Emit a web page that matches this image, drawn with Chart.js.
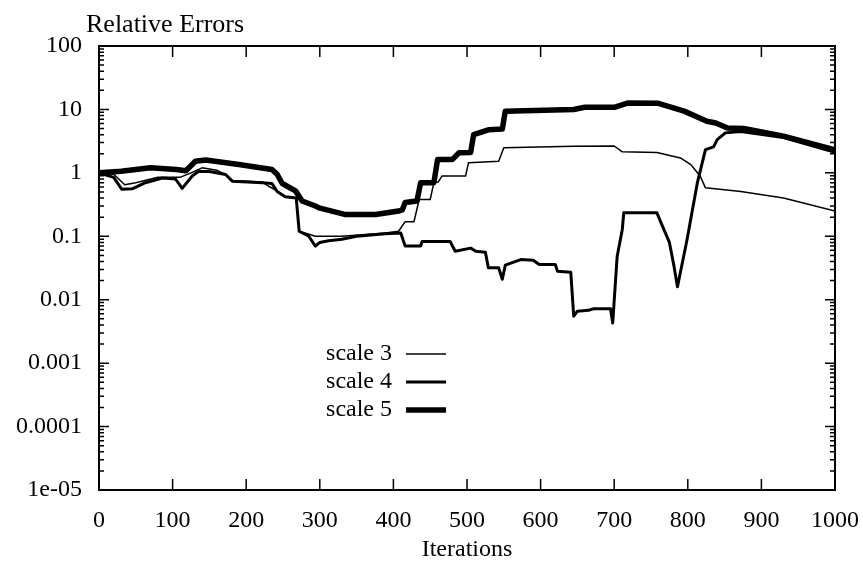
<!DOCTYPE html>
<html>
<head>
<meta charset="utf-8">
<script src="https://cdn.jsdelivr.net/npm/chart.js@4"></script>
<style>
  html, body { margin: 0; padding: 0; background: #fff; }
  #wrap { width: 863px; height: 566px; }
</style>
</head>
<body>
<div id="wrap"><canvas id="errChart" width="863" height="566"></canvas></div>
<script>
// Iteration ticks and log decade labels
const xTicks = [0, 100, 200, 300, 400, 500, 600, 700, 800, 900, 1000];
const yTicks = [1e-5, 1e-4, 1e-3, 1e-2, 0.1, 1, 10, 100];
const yLabels = ['1e-05', '0.0001', '0.001', '0.01', '0.1', '1', '10', '100'];
const seriesNames = ['scale 3', 'scale 4', 'scale 5'];

// scale 3 (thin)
const iters3 = [0, 20, 35, 50, 80, 110, 125, 140, 160, 172, 181, 222, 230, 242, 253, 268, 272, 294, 330, 389, 407, 416, 428, 435, 450, 455, 461, 466, 498, 502, 543, 550, 645, 700, 711, 758, 790, 804, 817, 824, 872, 930, 1000];
const errs3 = [1.0, 0.95, 0.65, 0.7, 0.85, 0.85, 1.0, 1.2, 1.1, 0.94, 0.76, 0.72, 0.62, 0.52, 0.42, 0.4, 0.12, 0.1, 0.1, 0.113, 0.12, 0.17, 0.17, 0.38, 0.38, 0.7, 0.72, 0.89, 0.89, 1.44, 1.52, 2.48, 2.63, 2.65, 2.15, 2.1, 1.72, 1.35, 0.885, 0.58, 0.51, 0.4, 0.25];

// scale 4 (medium)
const iters4 = [0, 20, 31, 45, 63, 86, 104, 113, 127, 135, 150, 172, 181, 222, 235, 242, 253, 268, 272, 285, 294, 300, 312, 330, 350, 389, 410, 416, 437, 439, 477, 484, 505, 512, 525, 529, 543, 548, 552, 573, 590, 598, 620, 623, 641, 645, 650, 665, 672, 695, 698, 704, 711, 713, 758, 765, 775, 781, 786, 799, 813, 824, 835, 840, 851, 872, 930, 1000];
const errs4 = [1.0, 0.85, 0.55, 0.56, 0.7, 0.83, 0.8, 0.57, 0.9, 1.05, 1.05, 0.94, 0.74, 0.7, 0.68, 0.51, 0.42, 0.4, 0.12, 0.1, 0.07, 0.08, 0.085, 0.09, 0.1, 0.11, 0.113, 0.07, 0.07, 0.083, 0.083, 0.058, 0.065, 0.058, 0.056, 0.032, 0.032, 0.021, 0.035, 0.043, 0.042, 0.036, 0.036, 0.028, 0.027, 0.0055, 0.0066, 0.0068, 0.0072, 0.0072, 0.0043, 0.048, 0.128, 0.234, 0.234, 0.15, 0.08, 0.035, 0.016, 0.089, 0.7, 2.33, 2.57, 3.35, 4.27, 4.5, 3.6, 2.1];

// scale 5 (thick)
const iters5 = [0, 30, 70, 105, 118, 131, 145, 190, 235, 242, 249, 267, 276, 294, 299, 335, 376, 407, 412, 416, 432, 437, 455, 460, 480, 489, 505, 509, 530, 548, 552, 645, 660, 700, 718, 760, 795, 826, 838, 854, 876, 930, 1000];
const errs5 = [1.0, 1.06, 1.2, 1.13, 1.08, 1.52, 1.6, 1.35, 1.13, 0.95, 0.68, 0.52, 0.36, 0.3, 0.28, 0.22, 0.22, 0.25, 0.26, 0.34, 0.36, 0.7, 0.7, 1.62, 1.62, 2.07, 2.1, 4.0, 4.8, 4.9, 9.4, 10, 10.8, 10.8, 12.6, 12.5, 9.4, 6.5, 6.1, 5.1, 5.0, 3.8, 2.3];

const FONT = "'Liberation Serif', 'DejaVu Serif', serif";
const widths = [1.5, 3, 5.5];

function toPoints(xs, ys) {
    return xs.map((v, i) => ({ x: v, y: ys[i] }));
}

// frame, inward ticks, title and the line legend
const framePlugin = {
    id: 'frame',
    afterDatasetsDraw(chart) {
        const { ctx, chartArea, scales } = chart;
        const { left, right, top, bottom } = chartArea;
        ctx.save();
        ctx.strokeStyle = '#000';
        ctx.lineWidth = 2;
        ctx.strokeRect(left, top, right - left, bottom - top);

        ctx.lineWidth = 1.5;
        ctx.beginPath();
        xTicks.forEach(v => {
            const px = scales.x.getPixelForValue(v);
            ctx.moveTo(px, bottom); ctx.lineTo(px, bottom - 11);
            ctx.moveTo(px, top); ctx.lineTo(px, top + 11);
        });
        for (let d = -5; d <= 2; d++) {
            for (let k = 1; k <= 9; k++) {
                if (d === 2 && k > 1) break;
                const py = scales.y.getPixelForValue(k * Math.pow(10, d));
                const len = k === 1 ? 10 : 5;
                ctx.moveTo(left, py); ctx.lineTo(left + len, py);
                ctx.moveTo(right, py); ctx.lineTo(right - len, py);
            }
        }
        ctx.stroke();

        // title
        ctx.fillStyle = '#000';
        ctx.font = '26px ' + FONT;
        ctx.textAlign = 'left';
        ctx.textBaseline = 'alphabetic';
        ctx.fillText('Relative Errors', left - 13, 32);

        // legend
        ctx.font = '24px ' + FONT;
        ctx.textAlign = 'right';
        ctx.textBaseline = 'middle';
        const lx = left + 293;
        seriesNames.forEach((name, i) => {
            const ly = top + 308 + i * 28;
            ctx.fillText(name, lx, ly);
            ctx.lineWidth = widths[i];
            ctx.beginPath();
            ctx.moveTo(lx + 14, ly);
            ctx.lineTo(lx + 54, ly);
            ctx.stroke();
        });
        ctx.restore();
    }
};

const datasets = [
    toPoints(iters3, errs3),
    toPoints(iters4, errs4),
    toPoints(iters5, errs5)
].map((pts, i) => ({
    label: seriesNames[i],
    data: pts,
    borderColor: '#000',
    borderWidth: widths[i],
    pointRadius: 0,
    tension: 0,
    borderJoinStyle: 'round',
    borderCapStyle: 'round',
    fill: false
}));

new Chart(document.getElementById('errChart').getContext('2d'), {
    type: 'line',
    data: { datasets },
    plugins: [framePlugin],
    options: {
        responsive: false,
        animation: false,
        events: [],
        layout: { padding: { top: 46, right: 28, left: 0, bottom: 0 } },
        plugins: {
            legend: { display: false },
            tooltip: { enabled: false },
            title: { display: false }
        },
        scales: {
            x: {
                type: 'linear',
                min: 0,
                max: 1000,
                afterBuildTicks: (scale) => { scale.ticks = xTicks.map(v => ({ value: v })); },
                afterFit: (scale) => {
                    scale.height = 76;
                    scale.paddingLeft = 0;
                    scale.paddingRight = 0;
                },
                grid: { display: false, drawTicks: false },
                border: { display: false },
                ticks: {
                    color: '#000',
                    font: { family: FONT, size: 24 },
                    padding: 16,
                    maxRotation: 0,
                    callback: (v) => String(v)
                },
                title: {
                    display: true,
                    text: 'Iterations',
                    color: '#000',
                    font: { family: FONT, size: 24 },
                    padding: { top: 0, bottom: 2 }
                }
            },
            y: {
                type: 'logarithmic',
                min: 1e-5,
                max: 100,
                afterBuildTicks: (scale) => { scale.ticks = yTicks.map(v => ({ value: v })); },
                afterFit: (scale) => {
                    scale.width = 99;
                    scale.paddingTop = 0;
                    scale.paddingBottom = 0;
                },
                grid: { display: false, drawTicks: false },
                border: { display: false },
                ticks: {
                    color: '#000',
                    font: { family: FONT, size: 24 },
                    padding: 17,
                    callback: (v) => {
                        const i = yTicks.findIndex(t => Math.abs(Math.log10(t) - Math.log10(v)) < 1e-6);
                        return i >= 0 ? yLabels[i] : '';
                    }
                }
            }
        }
    }
});
</script>
</body>
</html>
